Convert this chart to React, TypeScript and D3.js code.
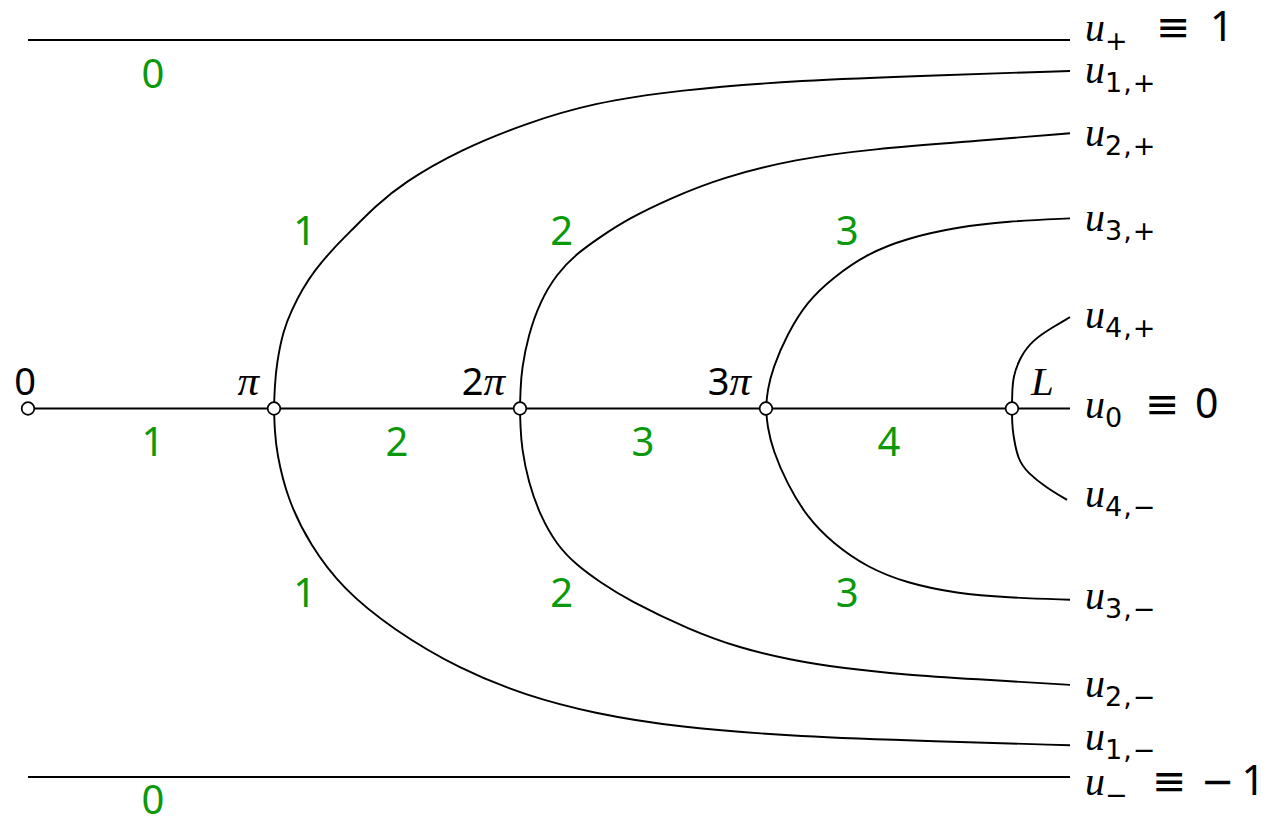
import { useMemo } from 'react';
import { scaleLinear, line, curveBasis } from 'd3';

// x in units of pi, u in [-1, 1]
const X_MAX = 4.236;

// bifurcation points on the trivial branch u0 = 0
const bifX = [0, 1, 2, 3, 4];
const bifLabels = ['0', 'π', '2π', '3π', 'L'];

// branches: [x / pi, u]
const branch1Plus: [number, number][] = [
    [1.0, 0], [1.003, 0.06], [1.011, 0.123], [1.038, 0.213], [1.072, 0.267], [1.113, 0.322],
    [1.167, 0.376], [1.235, 0.43], [1.316, 0.484], [1.411, 0.548], [1.524, 0.612],
    [1.756, 0.702], [2.028, 0.775], [2.297, 0.829], [2.638, 0.864], [3.138, 0.891],
    [3.687, 0.904], [4.236, 0.916],
];
const branch1Minus: [number, number][] = [
    [1.0, 0], [1.003, -0.06], [1.011, -0.12], [1.054, -0.245], [1.146, -0.37], [1.28, -0.49],
    [1.484, -0.6], [1.756, -0.708], [2.028, -0.78], [2.297, -0.827], [2.638, -0.865],
    [3.138, -0.891], [3.687, -0.903], [4.236, -0.914],
];
const branch2Plus: [number, number][] = [
    [2.0, 0], [2.002, 0.05], [2.007, 0.107], [2.034, 0.199], [2.081, 0.289], [2.149, 0.365],
    [2.23, 0.42], [2.325, 0.465], [2.44, 0.515], [2.61, 0.57], [2.821, 0.627], [3.122, 0.677],
    [3.423, 0.704], [3.874, 0.727], [4.236, 0.747],
];
const branch2Minus: [number, number][] = [
    [2.0, 0], [2.002, -0.05], [2.007, -0.107], [2.034, -0.199], [2.081, -0.289], [2.149, -0.37],
    [2.23, -0.425], [2.325, -0.471], [2.44, -0.52], [2.691, -0.601], [2.894, -0.65],
    [3.098, -0.682], [3.301, -0.704], [3.573, -0.723], [3.841, -0.734], [4.236, -0.75],
];
const branch3Plus: [number, number][] = [
    [3.0, 0], [3.006, 0.05], [3.028, 0.11], [3.085, 0.2], [3.167, 0.29], [3.272, 0.355],
    [3.411, 0.42], [3.573, 0.462], [3.776, 0.492], [3.98, 0.508], [4.236, 0.516],
];
const branch3Minus: [number, number][] = [
    [3.0, 0], [3.006, -0.05], [3.028, -0.113], [3.085, -0.203], [3.167, -0.295], [3.272, -0.366],
    [3.411, -0.431], [3.573, -0.474], [3.776, -0.502], [3.98, -0.513], [4.236, -0.519],
];
const branch4Plus: [number, number][] = [
    [4.0, 0], [4.001, 0.04], [4.004, 0.085], [4.033, 0.14], [4.085, 0.186], [4.167, 0.221],
    [4.236, 0.248],
];
const branch4Minus: [number, number][] = [
    [4.0, 0], [4.001, -0.04], [4.004, -0.067], [4.024, -0.14], [4.065, -0.175], [4.142, -0.216],
    [4.224, -0.248],
];

const branches = [
    branch1Plus, branch1Minus, branch2Plus, branch2Minus,
    branch3Plus, branch3Minus, branch4Plus, branch4Minus,
];

// constant solutions
const constU = [1, 0, -1];

// right-hand labels: subscript and optional value
const rightSubs = ['+', '1,+', '2,+', '3,+', '4,+', '0', '4,−', '3,−', '2,−', '1,−', '−'];
const rightValues = ['1', '', '', '', '', '0', '', '', '', '', '−1'];
const rightU = [1, 0.916, 0.747, 0.516, 0.248, 0, -0.248, -0.519, -0.75, -0.914, -1];

// green counts in each region: [x / pi, u, text]
const countLabels: [number, number, string][] = [
    [0.508, 0.87, '0'], [0.508, -1.1, '0'],
    [0.508, -0.13, '1'], [1.5, -0.13, '2'], [2.5, -0.13, '3'], [3.5, -0.13, '4'],
    [1.125, 0.445, '1'], [2.17, 0.445, '2'], [3.33, 0.445, '3'],
    [1.125, -0.54, '1'], [2.17, -0.54, '2'], [3.33, -0.54, '3'],
];

const SANS = '"Noto Sans", "DejaVu Sans", sans-serif';
const SYM = '"DejaVu Sans", sans-serif';
const SERIF = '"Liberation Serif", "DejaVu Serif", serif';
const GREEN = '#0a990a';

function App() {
    const width = 1265;
    const height = 821;

    const x = scaleLinear().domain([0, X_MAX]).range([28, 1070]);
    const y = scaleLinear().domain([-1, 1]).range([777, 40]);

    const path = useMemo(
        () =>
            line<[number, number]>()
                .x((d) => x(d[0]))
                .y((d) => y(d[1]))
                .curve(curveBasis),
        []
    );

    // baseline offsets of the right labels, and where "≡" and the value sit
    const labelDy = [1, 12, 13, 13, 11, 9, 7, 9, 12, 5, 18];
    const eqX: Record<number, number> = { 0: 1156, 5: 1145, 10: 1152 };
    const valX: Record<number, number> = { 0: 1210, 5: 1195, 10: 1201 };

    return (
        <svg
            width={width}
            height={height}
            style={{ position: 'absolute', left: 0, top: 0, background: '#fff' }}
        >
            {/* constant branches */}
            {constU.map((u) => (
                <line
                    key={u}
                    x1={x(0)}
                    x2={x(X_MAX)}
                    y1={y(u)}
                    y2={y(u)}
                    stroke="#000"
                    strokeWidth={2}
                />
            ))}

            {/* bifurcating branches */}
            {branches.map((b, i) => (
                <path key={i} d={path(b) || ''} fill="none" stroke="#000" strokeWidth={1.9} />
            ))}

            {/* bifurcation points */}
            {bifX.map((b) => (
                <circle key={b} cx={x(b)} cy={y(0)} r={6.3} fill="#fff" stroke="#000" strokeWidth={1.7} />
            ))}

            {/* point labels */}
            {bifLabels.map((t, i) => {
                const cx = x(bifX[i]);
                if (i === 0)
                    return (
                        <text key={t} x={cx - 3} y={395} textAnchor="middle" fontFamily={SANS} fontSize={38}>
                            {t}
                        </text>
                    );
                if (t === 'L')
                    return (
                        <text key={t} x={cx + 19} y={395} fontFamily={SERIF} fontStyle="italic" fontSize={41}>
                            L
                        </text>
                    );
                return (
                    <text key={t} x={cx - 15} y={395} textAnchor="end" fontSize={38}>
                        {t.length > 1 && <tspan fontFamily={SANS}>{t[0]}</tspan>}
                        <tspan fontFamily={SERIF} fontStyle="italic" fontSize={43}>π</tspan>
                    </text>
                );
            })}

            {/* right labels */}
            {rightSubs.map((s, i) => (
                <text key={i} y={y(rightU[i]) + labelDy[i]} fontSize={40}>
                    <tspan x={1085} fontFamily={SERIF} fontStyle="italic" fontSize={40}>u</tspan>
                    <tspan fontFamily={SYM} fontSize={27} dy={9} letterSpacing={1}>
                        {s}
                    </tspan>
                    {rightValues[i] && (
                        <>
                            <tspan x={eqX[i]} dy={-9} fontFamily={SYM} fontSize={41}>≡</tspan>
                            {rightValues[i].startsWith('−') ? (
                                <>
                                    <tspan x={valX[i]} fontFamily={SYM} fontSize={40}>−</tspan>
                                    <tspan dx={7} fontFamily={SANS} fontSize={41}>1</tspan>
                                </>
                            ) : (
                                <tspan x={valX[i]} fontFamily={SANS} fontSize={41}>
                                    {rightValues[i]}
                                </tspan>
                            )}
                        </>
                    )}
                </text>
            ))}

            {/* counts */}
            {countLabels.map(([cx, cu, t], i) => (
                <text
                    key={i}
                    x={x(cx)}
                    y={y(cu)}
                    textAnchor="middle"
                    fontFamily={SANS}
                    fontSize={40}
                    fill={GREEN}
                >
                    {t}
                </text>
            ))}
        </svg>
    );
}

export default App;
